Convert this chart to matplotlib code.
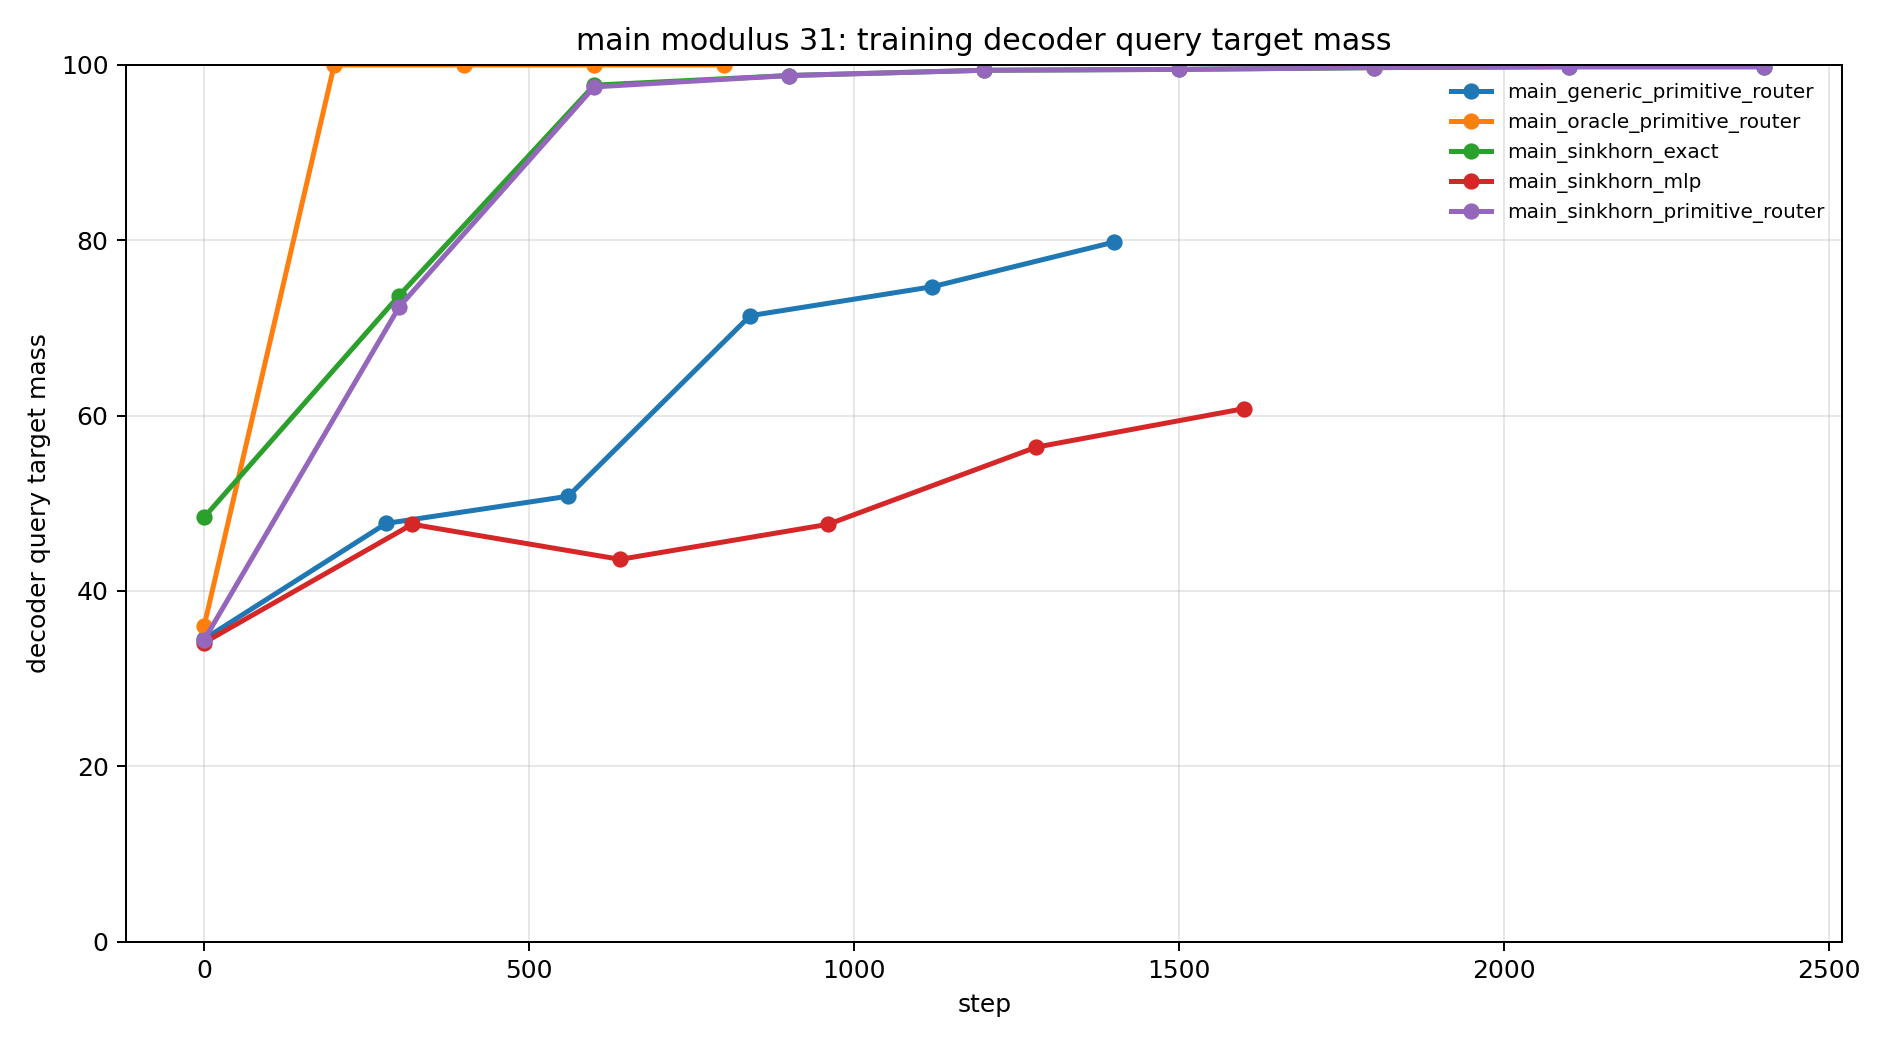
import matplotlib
matplotlib.use("Agg")
import matplotlib.pyplot as plt

generic_steps = [0, 280, 560, 840, 1120, 1400]
generic_vals = [34.5, 47.7, 50.8, 71.4, 74.7, 79.8]

oracle_steps = [0, 200, 400, 600, 800]
oracle_vals = [36.0, 100.0, 100.0, 100.0, 100.0]

exact_steps = [0, 300, 600, 900, 1200, 1500, 1800, 2100, 2400]
exact_vals = [48.4, 73.7, 97.7, 98.8, 99.4, 99.5, 99.7, 99.8, 99.8]

mlp_steps = [0, 320, 640, 960, 1280, 1600]
mlp_vals = [34.1, 47.6, 43.6, 47.6, 56.4, 60.8]

spr_steps = [0, 300, 600, 900, 1200, 1500, 1800, 2100, 2400]
spr_vals = [34.4, 72.4, 97.5, 98.8, 99.4, 99.5, 99.7, 99.8, 99.8]

series = [
    ("main_generic_primitive_router", generic_steps, generic_vals),
    ("main_oracle_primitive_router", oracle_steps, oracle_vals),
    ("main_sinkhorn_exact", exact_steps, exact_vals),
    ("main_sinkhorn_mlp", mlp_steps, mlp_vals),
    ("main_sinkhorn_primitive_router", spr_steps, spr_vals),
]

fig, ax = plt.subplots(figsize=(10.5, 5.8), dpi=180)
for name, xs, ys in series:
    ax.plot(xs, ys, marker="o", linewidth=2.0, markersize=5.5, label=name)

ax.set_ylim(0, 100)
ax.set_xlabel("step")
ax.set_ylabel("decoder query target mass")
ax.set_title("main modulus 31: training decoder query target mass")
ax.grid(True, alpha=0.3)
ax.legend(loc="upper right", fontsize=8, frameon=False)
fig.tight_layout()
fig.savefig("out.png", dpi=180)
